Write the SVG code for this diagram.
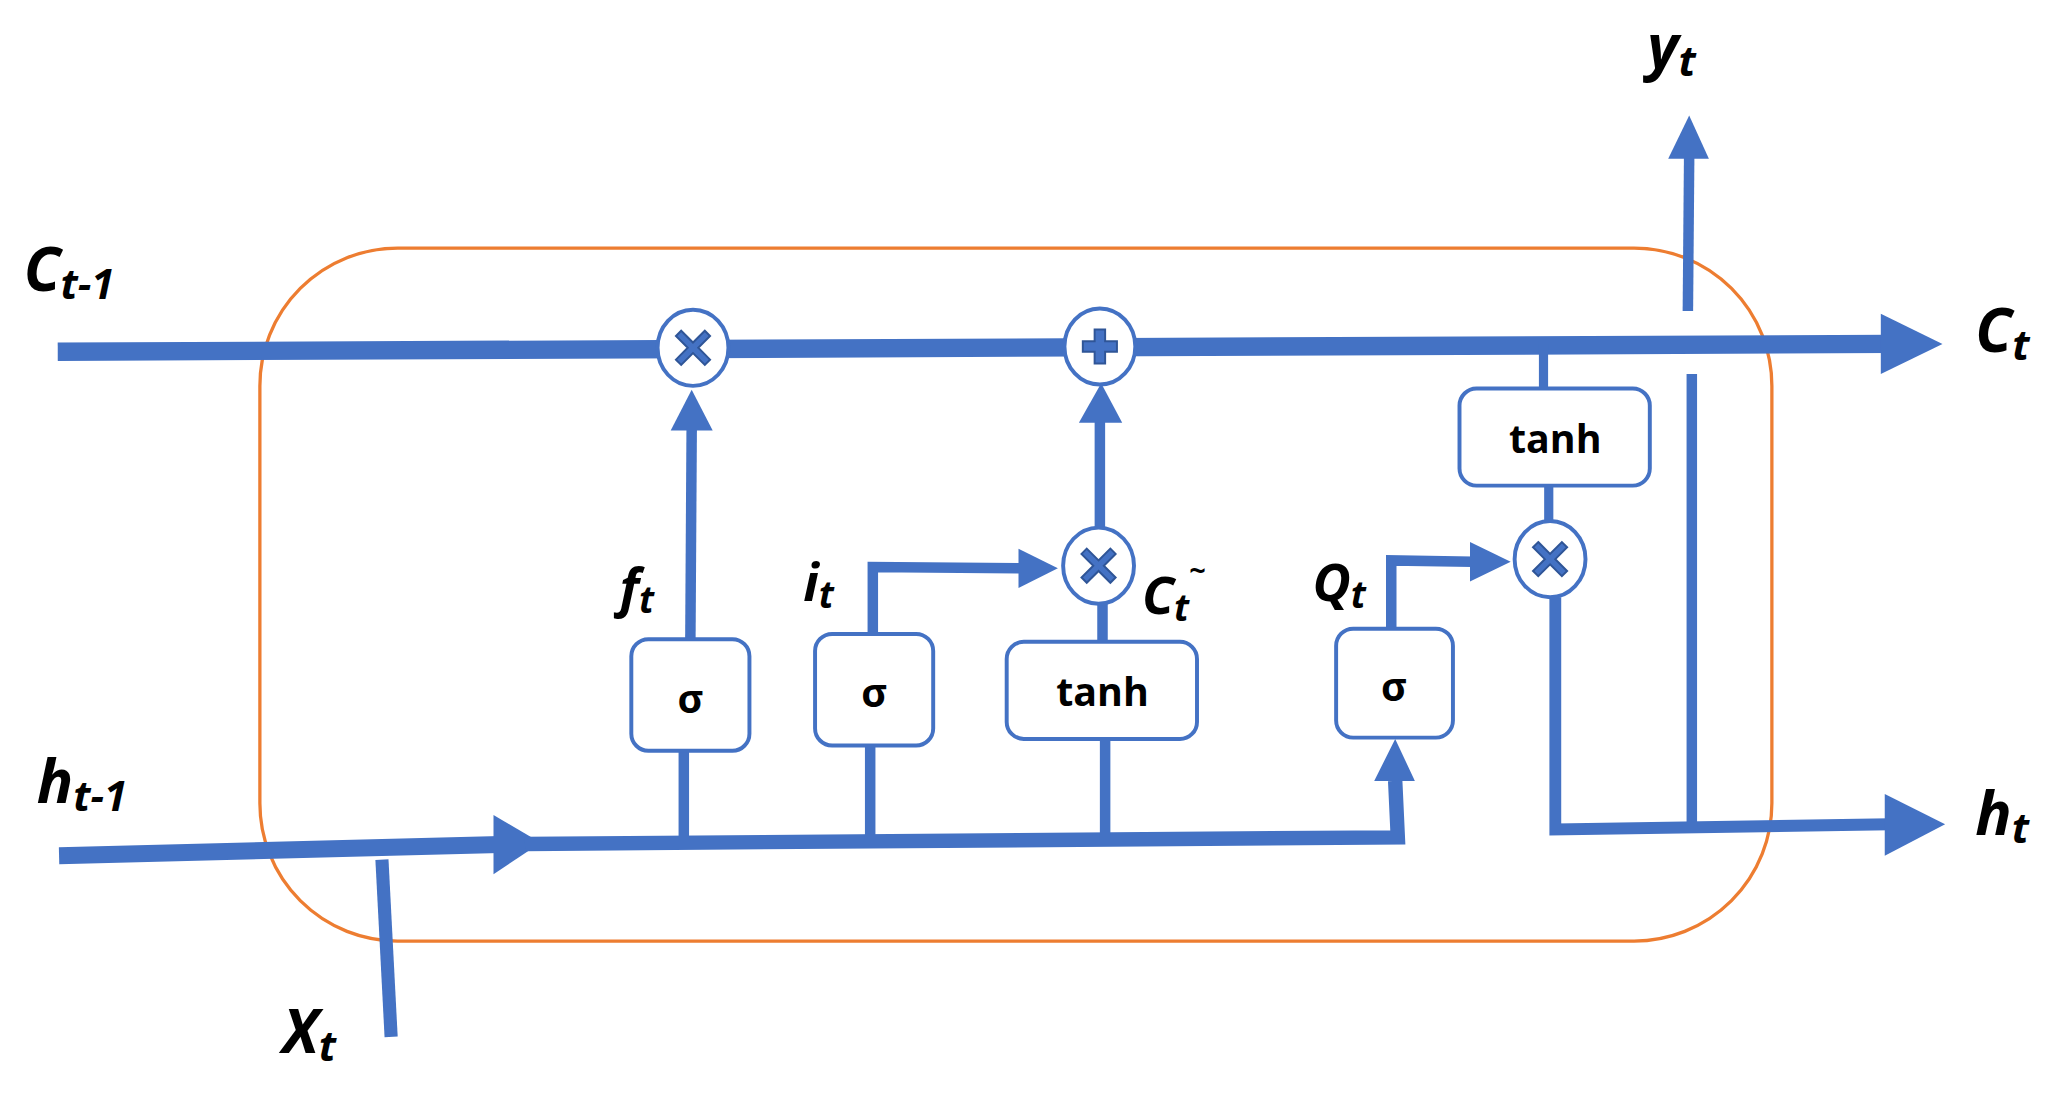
<svg xmlns="http://www.w3.org/2000/svg" width="2058" height="1095" viewBox="0 0 2058 1095">
<style>
.ln{stroke:#4472C4;fill:none}
.ah{fill:#4472C4}
.box{fill:#fff;stroke:#4472C4;stroke-width:3}
.op{fill:#fff;stroke:#4472C4;stroke-width:3}
.sym{fill:#4472C4;stroke:#2F5597;stroke-width:1.5}
.bt{font-family:"Open Sans","Liberation Sans",sans-serif;font-weight:bold;font-size:30px;text-anchor:middle;fill:#000}
.lb{font-family:"Open Sans","Liberation Sans",sans-serif;font-weight:bold;font-style:italic;fill:#000}
</style>
<defs>
<path id="xs" class="sym" d="M-9,-13 L0,-4 L9,-13 L13,-9 L4,0 L13,9 L9,13 L0,4 L-9,13 L-13,9 L-4,0 L-13,-9 Z"/>
</defs>
<rect width="2058" height="1095" fill="#fff"/>
<g transform="scale(1.3125)">
<rect id="cell" x="198" y="189" width="1152" height="528" rx="105" fill="none" stroke="#ED7D31" stroke-width="2.5"/>
<g id="connectors">
<path class="ln" stroke-width="14" d="M44,268 L1440,262"/>
<polygon class="ah" points="1433,239 1480,262 1433,285"/>
<path class="ln" stroke-width="13" d="M45,652 L400,643"/>
<polygon class="ah" points="376,621 412,642 376,666"/>
<path class="ln" stroke-width="11" d="M400,643 L1065,638 L1063,595"/>
<polygon class="ah" points="1047,595 1063,563 1078,595"/>
<path class="ln" stroke-width="10" d="M291,655 L298,790"/>
<path class="ln" stroke-width="8" d="M526,487 L527,326"/>
<polygon class="ah" points="511,328 527,297 543,328"/>
<path class="ln" stroke-width="8" d="M521,572 L521,640 M663,568 L663,640 M842,563 L842,640"/>
<path class="ln" stroke-width="8" d="M665,483 L665,432 L778,433"/>
<polygon class="ah" points="776,418 806,433 776,448"/>
<path class="ln" stroke-width="8" d="M840,489 L840,458"/>
<path class="ln" stroke-width="8" d="M838,402 L838,320"/>
<polygon class="ah" points="822,322 839,292 855,322"/>
<path class="ln" stroke-width="8" d="M1060,479 L1060,427 L1122,428"/>
<polygon class="ah" points="1120,413 1151,428 1120,443"/>
<path class="ln" stroke-width="7" d="M1176,262 L1176,296 M1180,370 L1180,397"/>
<path class="ln" stroke-width="9" d="M1185,455 L1185,632 L1440,628"/>
<polygon class="ah" points="1436,605 1482,628 1436,652"/>
<path class="ln" stroke-width="8" d="M1289,630 L1289,285"/>
<path class="ln" stroke-width="8" d="M1286,237 L1287,118"/>
<polygon class="ah" points="1271,121 1287,88 1302,121"/>
</g>
<g id="sig1"><rect class="box" x="481" y="487" width="90" height="85" rx="13"/><text class="bt" x="526" y="543">σ</text></g>
<g id="sig2"><rect class="box" x="621" y="483" width="90" height="85" rx="13"/><text class="bt" x="666" y="539">σ</text></g>
<g id="tanh1"><rect class="box" x="767" y="489" width="145" height="74" rx="13"/><text class="bt" x="840" y="538">tanh</text></g>
<g id="sig3"><rect class="box" x="1018" y="479" width="89" height="83" rx="13"/><text class="bt" x="1062" y="534">σ</text></g>
<g id="tanh2"><rect class="box" x="1112" y="296" width="145" height="74" rx="13"/><text class="bt" x="1185" y="345">tanh</text></g>
<g id="mul1"><ellipse class="op" cx="528" cy="265" rx="27" ry="29"/><use href="#xs" x="528" y="265"/></g>
<g id="add1"><ellipse class="op" cx="838" cy="264" rx="27" ry="29"/><path class="sym" d="M-4,-13 H4 V-4 H13 V4 H4 V13 H-4 V4 H-13 V-4 H-4 Z" transform="translate(838,264)"/></g>
<g id="mul2"><ellipse class="op" cx="837" cy="431" rx="27" ry="29"/><use href="#xs" x="837" y="431"/></g>
<g id="mul3"><ellipse class="op" cx="1181" cy="426" rx="27" ry="29"/><use href="#xs" x="1181" y="426"/></g>
<g id="labels">
<text class="lb" x="18" y="222" font-size="46">C<tspan font-size="32" dy="6">t-1</tspan></text>
<text class="lb" x="28" y="612" font-size="46">h<tspan font-size="32" dy="6">t-1</tspan></text>
<text class="lb" x="215" y="802" font-size="46">X<tspan font-size="32" dy="6">t</tspan></text>
<text class="lb" x="472" y="462" font-size="40">f<tspan font-size="28" dy="5">t</tspan></text>
<text class="lb" x="612" y="458" font-size="40">i<tspan font-size="28" dy="5">t</tspan></text>
<text class="lb" x="870" y="468" font-size="40">C<tspan font-size="28" dy="5">t</tspan><tspan font-size="22" dy="-30">~</tspan></text>
<text class="lb" x="1000" y="458" font-size="40">Q<tspan font-size="28" dy="5">t</tspan></text>
<text class="lb" x="1505" y="268" font-size="46">C<tspan font-size="32" dy="6">t</tspan></text>
<text class="lb" x="1505" y="636" font-size="46">h<tspan font-size="32" dy="6">t</tspan></text>
<text class="lb" x="1255" y="52" font-size="46">y<tspan font-size="32" dy="6">t</tspan></text>
</g>
</g>
</svg>
